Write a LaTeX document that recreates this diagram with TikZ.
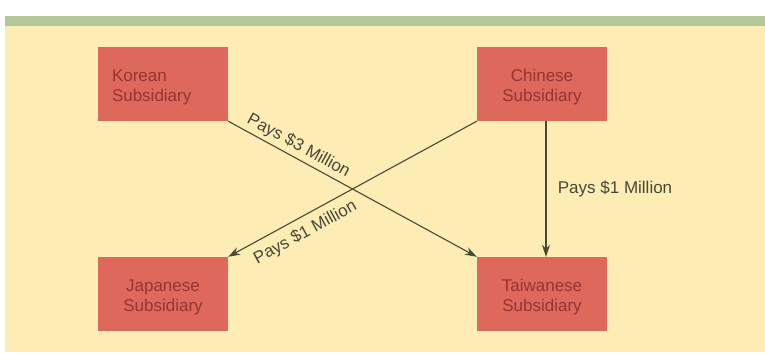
\documentclass[tikz,border=0pt]{standalone}
\usepackage{fontspec}
\setmainfont{Liberation Sans}
\usepackage{tikz}
\usetikzlibrary{arrows.meta, positioning}
\definecolor{cream}{RGB}{253,236,180}
\definecolor{bandgreen}{RGB}{180,199,150}
\definecolor{subred}{RGB}{222,104,92}
\definecolor{subtext}{RGB}{150,52,50}
\definecolor{paygray}{RGB}{72,72,56}

\begin{document}
\begin{tikzpicture}[x=1pt, y=-1pt,
    subsid/.style={rectangle, fill=subred, minimum width=130pt, minimum height=74pt,
                   inner sep=0pt, align=center, text width=102pt, text=subtext,
                   text height=19pt, font=\fontsize{17}{20}\selectfont},
    pay/.style={-{Stealth[length=12pt, width=8pt]}, line width=1.1pt, draw=paygray},
    paylabel/.style={text=paygray, font=\fontsize{17}{20}\selectfont}
]
\useasboundingbox (0,0) rectangle (765,355);
\fill[cream] (5,26) rectangle (765,352);
\fill[bandgreen] (5,16) rectangle (765,26);
\node[subsid, align=left] (korean) at (163,84) {Korean\\Subsidiary};
\node[subsid] (chinese) at (542,84) {Chinese\\Subsidiary};
\node[subsid] (japanese) at (163,294) {Japanese\\Subsidiary};
\node[subsid] (taiwanese) at (542,294) {Taiwanese\\Subsidiary};
\draw[pay] (korean.south east) -- node[paylabel, sloped, above, pos=0.26] {Pays \$3 Million} (taiwanese.north west);
\draw[pay] (chinese.south west) -- node[paylabel, sloped, below=4pt, pos=0.72] {Pays \$1 Million} (japanese.north east);
\draw[pay] ([xshift=4pt]chinese.south) -- node[paylabel, right=8pt] {Pays \$1 Million} ([xshift=4pt]taiwanese.north);
\end{tikzpicture}
\end{document}
